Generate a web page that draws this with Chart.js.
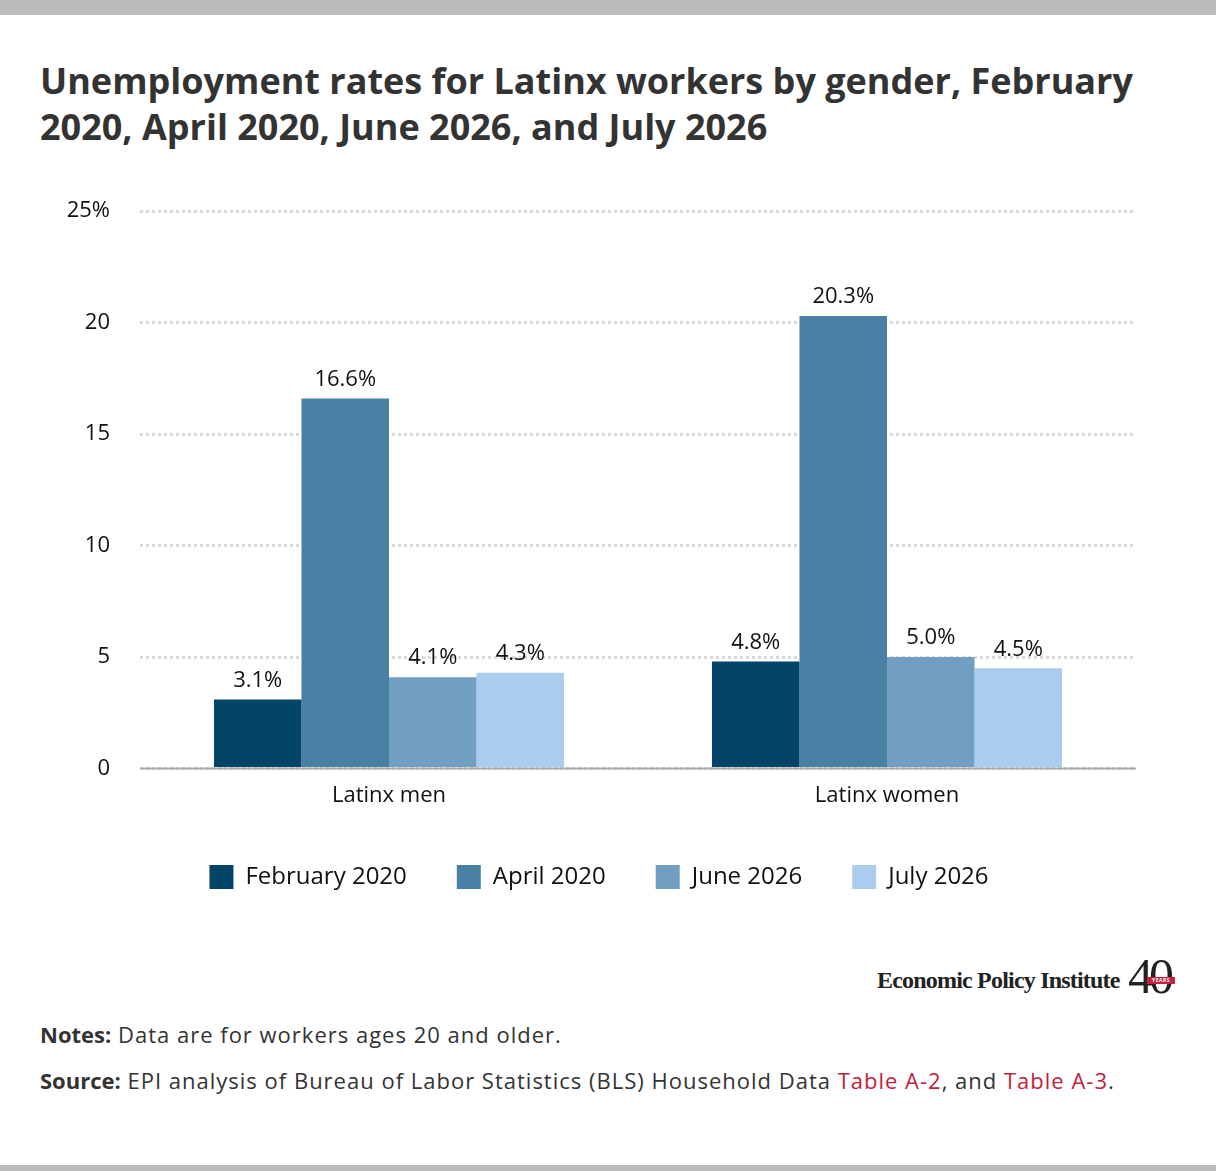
<!DOCTYPE html>
<html>
<head>
<meta charset="utf-8">
<script src="https://cdn.jsdelivr.net/npm/chart.js@4.4.1/dist/chart.umd.min.js"></script>
<style>
  html, body { margin: 0; padding: 0; background: #fff; }
  body { width: 1216px; height: 1171px; position: relative; overflow: hidden; font-family: "Open Sans", Lato, sans-serif; }
  .bar-top { position: absolute; left: 0; top: 0; width: 1216px; height: 15px; background: #bcbcbc; }
  .bar-bottom { position: absolute; left: 0; top: 1165px; width: 1216px; height: 6px; background: #bcbcbc; }
  h1 { position: absolute; left: 40px; top: 58px; margin: 0; width: 1170px; font-size: 36px; line-height: 46px; font-weight: 700; color: #333; }
  #wrap { position: absolute; left: 0; top: 168px; width: 1216px; height: 731px; }
  .logo-name { position: absolute; left: 877px; top: 967px; font-family: "Liberation Serif", serif; font-weight: 700; font-size: 24px; color: #222; letter-spacing: -0.8px; }
  .logo-40 { position: absolute; left: 1128px; top: 951px; font-family: "Liberation Serif", serif; font-size: 50px; line-height: 50px; color: #222; letter-spacing: -4px; }
  .logo-years { position: absolute; left: 1147px; top: 977px; width: 28px; height: 7px; background: #c8203c; color: #fff; font: 700 5px "Open Sans", sans-serif; text-align: center; letter-spacing: 0.5px; line-height: 7px; }
  .notes { position: absolute; left: 40px; top: 1011px; font-size: 22px; color: #333; line-height: 46px; letter-spacing: 1px; }
  .notes b { letter-spacing: 0; }
  .notes a { color: #c0223b; text-decoration: none; }
</style>
</head>
<body>
<div class="bar-top"></div>
<h1>Unemployment rates for Latinx workers by gender, February<br>2020, April 2020, June 2026, and July 2026</h1>
<div id="wrap"><canvas id="barChart"></canvas></div>
<div class="logo-name">Economic Policy Institute</div>
<div class="logo-40">40</div>
<div class="logo-years">YEARS</div>
<div class="notes">
  <div><b>Notes:</b> Data are for workers ages 20 and older.</div>
  <div><b>Source:</b> EPI analysis of Bureau of Labor Statistics (BLS) Household Data <a>Table A-2</a>, and <a>Table A-3</a>.</div>
</div>
<div class="bar-bottom"></div>
<script>
var categories = ['Latinx men', 'Latinx women'];
var seriesNames = ['February 2020', 'April 2020', 'June 2026', 'July 2026'];
var feb2020 = [3.1, 4.8];
var apr2020 = [16.6, 20.3];
var jun2026 = [4.1, 5.0];
var jul2026 = [4.3, 4.5];
var yTicks = [0, 5, 10, 15, 20, 25];

var colors = ['#034566', '#4a80a3', '#709fc2', '#aacdee'];
var seriesValues = [feb2020, apr2020, jun2026, jul2026];
var fontFamily = '"Open Sans", Lato, sans-serif';

// value labels above each bar
var barLabels = {
    id: 'barLabels',
    afterDatasetsDraw: function(chart) {
        var ctx = chart.ctx;
        ctx.save();
        ctx.font = '22px ' + fontFamily;
        ctx.fillStyle = '#111';
        ctx.textAlign = 'center';
        ctx.textBaseline = 'middle';
        chart.data.datasets.forEach(function(ds, i) {
            chart.getDatasetMeta(i).data.forEach(function(bar, j) {
                ctx.fillText(ds.data[j].toFixed(1) + '%', bar.x, bar.y - 19);
            });
        });
        ctx.restore();
    }
};

// solid baseline at zero
var zeroLine = {
    id: 'zeroLine',
    afterDatasetsDraw: function(chart) {
        var ctx = chart.ctx;
        var y = chart.scales.y.getPixelForValue(0);
        ctx.save();
        ctx.strokeStyle = '#aaaaaa';
        ctx.lineWidth = 2;
        ctx.beginPath();
        ctx.moveTo(chart.chartArea.left, y);
        ctx.lineTo(chart.chartArea.right, y);
        ctx.stroke();
        ctx.restore();
    }
};

var ctx = document.getElementById('barChart').getContext('2d');
var barChart = new Chart(ctx, {
    type: 'bar',
    data: {
        labels: categories,
        datasets: seriesNames.map(function(name, i) {
            return {
                label: name,
                data: seriesValues[i],
                backgroundColor: colors[i],
                borderWidth: 0,
                categoryPercentage: 0.703,
                barPercentage: 1.0
            };
        })
    },
    options: {
        responsive: true,
        maintainAspectRatio: false,
        animation: false,
        layout: { padding: { top: 20, right: 18, left: 0, bottom: 0 } },
        plugins: {
            legend: {
                position: 'bottom',
                labels: {
                    boxWidth: 24,
                    boxHeight: 24,
                    padding: 50,
                    color: '#111',
                    font: { family: fontFamily, size: 24 }
                }
            },
            tooltip: { enabled: false }
        },
        scales: {
            x: {
                grid: { display: false },
                border: { display: false },
                ticks: {
                    color: '#111',
                    padding: 6,
                    font: { family: fontFamily, size: 22 }
                }
            },
            y: {
                min: 0,
                max: 25,
                afterFit: function(scale) { scale.width = 140; },
                afterBuildTicks: function(scale) {
                    scale.ticks = yTicks.map(function(v) { return { value: v }; });
                },
                grid: {
                    color: '#d9d9d9',
                    lineWidth: 3,
                    drawTicks: false
                },
                border: { display: false, dash: [3, 3] },
                ticks: {
                    color: '#111',
                    padding: 30,
                    font: { family: fontFamily, size: 22 },
                    callback: function(v) { return v === 25 ? v + '%' : v; }
                }
            },
            // empty right-hand spacer so the legend centres on the page
            yRight: {
                position: 'right',
                min: 0,
                max: 25,
                afterFit: function(scale) { scale.width = 62; },
                grid: { display: false },
                border: { display: false },
                ticks: { display: false }
            }
        }
    },
    plugins: [barLabels, zeroLine]
});
</script>
</body>
</html>
